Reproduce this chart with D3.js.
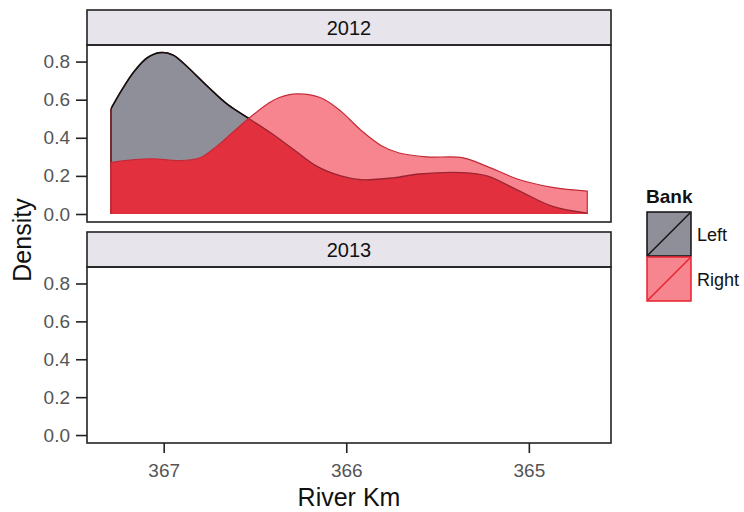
<!DOCTYPE html>
<html>
<head>
<meta charset="utf-8">
<script src="https://cdn.jsdelivr.net/npm/d3@7"></script>
<style>
  html, body { margin: 0; padding: 0; background: #fff; }
  svg { display: block; font-family: "Liberation Sans", Arial, sans-serif; }
</style>
</head>
<body>
<svg id="chart" width="744" height="512"></svg>
<script>
// River kilometre positions (x) and kernel density estimates per bank, 2012
const leftKm = [367.29, 367.23, 367.16, 367.09, 367.02, 366.95, 366.89, 366.76, 366.65, 366.54, 366.42, 366.29, 366.16, 366.03, 365.92, 365.74, 365.60, 365.36, 365.23, 365.05, 364.87, 364.68];
const leftDensity = [0.55, 0.65, 0.75, 0.82, 0.847, 0.835, 0.79, 0.67, 0.575, 0.505, 0.43, 0.34, 0.25, 0.20, 0.18, 0.19, 0.21, 0.217, 0.20, 0.12, 0.04, 0.005];
const rightKm = [367.29, 367.16, 367.06, 366.91, 366.80, 366.71, 366.62, 366.53, 366.42, 366.37, 366.27, 366.14, 366.03, 365.92, 365.81, 365.71, 365.56, 365.36, 365.23, 365.05, 364.87, 364.68];
const rightDensity = [0.27, 0.285, 0.29, 0.28, 0.295, 0.355, 0.43, 0.505, 0.585, 0.61, 0.63, 0.61, 0.54, 0.44, 0.36, 0.32, 0.30, 0.295, 0.25, 0.18, 0.14, 0.12];

const years = ["2012", "2013"];
const banks = ["Left", "Right"];
const xTicks = [367, 366, 365];
const yTicks = [0.0, 0.2, 0.4, 0.6, 0.8];

const series = {
  "2012": {
    Left: leftKm.map((k, i) => ({ km: k, d: leftDensity[i] })),
    Right: rightKm.map((k, i) => ({ km: k, d: rightDensity[i] }))
  },
  "2013": { Left: [], Right: [] }
};

const colors = {
  leftFill: "#8f8f9a",
  rightFill: "#f7858f",
  overlap: "#e3303e",
  rightLine: "#c42a38",
  leftUnder: "#9a2530"
};

const svg = d3.select("#chart");
const panelX0 = 87, panelX1 = 611;
const panels = [
  { year: years[0], stripTop: 10, top: 45, bottom: 222 },
  { year: years[1], stripTop: 232, top: 267, bottom: 443 }
];

// Reversed x axis (river km counts downstream)
const x = d3.scaleLinear().domain([367.42, 364.55]).range([panelX0, panelX1]);
const smooth = d3.curveCatmullRom.alpha(0.5);

panels.forEach((p, pi) => {
  const y = d3.scaleLinear().domain([-0.042, 0.887]).range([p.bottom, p.top]);
  const g = svg.append("g");

  // strip
  g.append("rect")
    .attr("x", panelX0).attr("y", p.stripTop)
    .attr("width", panelX1 - panelX0).attr("height", p.top - p.stripTop)
    .attr("fill", "#e7e4ec").attr("stroke", "#222").attr("stroke-width", 1.6);
  g.append("text")
    .attr("x", (panelX0 + panelX1) / 2).attr("y", (p.stripTop + p.top) / 2 + 7)
    .attr("text-anchor", "middle").attr("font-size", 20).attr("fill", "#111")
    .text(p.year);

  const L = series[p.year].Left;
  const R = series[p.year].Right;

  if (L.length && R.length) {
    const area = d3.area().curve(smooth)
      .x(d => x(d.km)).y0(y(0)).y1(d => y(d.d));
    const above = d3.area().curve(smooth)
      .x(d => x(d.km)).y0(p.top).y1(d => y(d.d));
    const line = d3.line().curve(smooth)
      .x(d => x(d.km)).y(d => y(d.d));
    // closed outline like a density geom (vertical edges + baseline)
    const outline = pts => {
      const first = pts[0], last = pts[pts.length - 1];
      return `M${x(first.km)},${y(0)}L` + line(pts).slice(1) + `L${x(last.km)},${y(0)}`;
    };

    const defs = svg.append("defs");
    defs.append("clipPath").attr("id", "clipLeft" + pi)
      .append("path").attr("d", area(L));
    defs.append("clipPath").attr("id", "clipAboveRight" + pi)
      .append("path").attr("d", above(R));

    g.append("path").attr("d", area(L)).attr("fill", colors.leftFill);
    g.append("path").attr("d", area(R)).attr("fill", colors.rightFill);
    g.append("path").attr("d", area(R)).attr("fill", colors.overlap)
      .attr("clip-path", `url(#clipLeft${pi})`);

    // left outline: dark red where covered by the Right density, black elsewhere
    g.append("path").attr("d", outline(L)).attr("fill", "none")
      .attr("stroke", colors.leftUnder).attr("stroke-width", 1.3);
    g.append("path").attr("d", outline(L)).attr("fill", "none")
      .attr("stroke", "#111").attr("stroke-width", 1.6)
      .attr("clip-path", `url(#clipAboveRight${pi})`);
    g.append("path").attr("d", outline(R)).attr("fill", "none")
      .attr("stroke", colors.rightLine).attr("stroke-width", 1.2);
  }

  // panel border
  g.append("rect")
    .attr("x", panelX0).attr("y", p.top)
    .attr("width", panelX1 - panelX0).attr("height", p.bottom - p.top)
    .attr("fill", "none").attr("stroke", "#222").attr("stroke-width", 1.6);

  // y axis
  const yAxis = g.append("g").attr("transform", `translate(${panelX0},0)`)
    .call(d3.axisLeft(y).tickValues(yTicks).tickFormat(d3.format(".1f")).tickSize(11).tickPadding(6));
  yAxis.attr("font-size", 19).attr("font-family", "Liberation Sans, Arial, sans-serif");
  yAxis.select(".domain").remove();
  yAxis.selectAll(".tick line").attr("stroke", "#222").attr("stroke-width", 1.6);
  yAxis.selectAll(".tick text").attr("fill", "#555");

  if (pi === panels.length - 1) {
    const xAxis = g.append("g").attr("transform", `translate(0,${p.bottom})`)
      .call(d3.axisBottom(x).tickValues(xTicks).tickFormat(d3.format("d")).tickSize(10).tickPadding(11));
    xAxis.attr("font-size", 19).attr("font-family", "Liberation Sans, Arial, sans-serif");
    xAxis.select(".domain").remove();
    xAxis.selectAll(".tick line").attr("stroke", "#222").attr("stroke-width", 1.6);
    xAxis.selectAll(".tick text").attr("fill", "#555");
  }
});

// axis titles
svg.append("text").attr("x", 349).attr("y", 506).attr("text-anchor", "middle")
  .attr("font-size", 25).attr("fill", "#111").text("River Km");
svg.append("text").attr("transform", "translate(31,240) rotate(-90)")
  .attr("text-anchor", "middle").attr("font-size", 25).attr("fill", "#111").text("Density");

// legend
const lg = svg.append("g").attr("transform", "translate(647,0)");
lg.append("text").attr("x", -1).attr("y", 203).attr("font-size", 19)
  .attr("font-weight", "bold").attr("fill", "#111").text("Bank");
const keyStyle = {
  Left: { fill: colors.leftFill, stroke: "#111" },
  Right: { fill: colors.rightFill, stroke: "#e8202e" }
};
banks.forEach((b, i) => {
  const ky = 212 + i * 45;
  const k = lg.append("g");
  k.append("rect").attr("x", 0).attr("y", ky).attr("width", 44).attr("height", 44)
    .attr("fill", keyStyle[b].fill).attr("stroke", keyStyle[b].stroke).attr("stroke-width", 1.5);
  k.append("line").attr("x1", 1).attr("y1", ky + 43).attr("x2", 43).attr("y2", ky + 1)
    .attr("stroke", keyStyle[b].stroke).attr("stroke-width", 1.5);
  lg.append("text").attr("x", 50).attr("y", ky + 29).attr("font-size", 18)
    .attr("fill", "#111").text(b);
});
</script>
</body>
</html>
